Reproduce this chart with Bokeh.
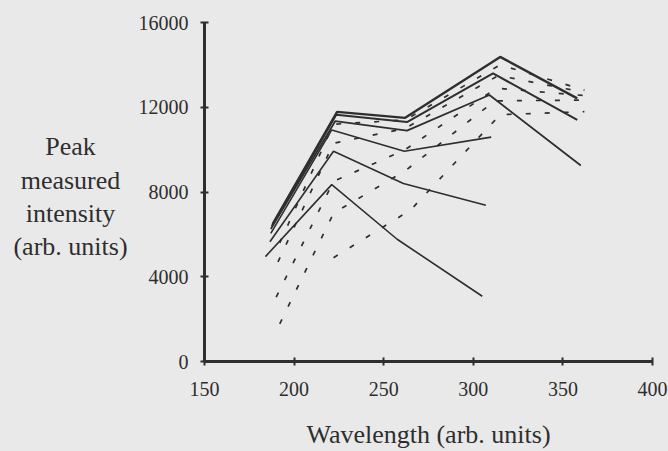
from bokeh.plotting import figure
from bokeh.layouts import row
from bokeh.models import Range1d, FixedTicker, ColumnDataSource
from bokeh.core.properties import value
from bokeh.embed import file_html
from bokeh.resources import INLINE

# ---- data ----
x_ticks = [150, 200, 250, 300, 350, 400]
y_ticks = [0, 4000, 8000, 12000, 16000]

# solid curves
s1_x = [184, 221, 257.5, 305]
s1_y = [4950, 8350, 5770, 3080]
s2_x = [186.5, 222, 261, 307]
s2_y = [5650, 9920, 8400, 7370]
s3_x = [187, 221, 261.5, 310]
s3_y = [6050, 10930, 9920, 10590]
s4_x = [187, 223, 263, 309, 360]
s4_y = [6250, 11350, 10900, 12580, 9250]
s5_x = [187.5, 223.5, 263, 311, 358]
s5_y = [6380, 11650, 11300, 13600, 11400]
s6_x = [188, 224, 262, 315, 358]
s6_y = [6480, 11780, 11500, 14375, 12420]

# dotted curves
d1_x = [222, 265, 315, 362]
d1_y = [4900, 7150, 11650, 11790]
d2_x = [192, 222, 262, 312, 362]
d2_y = [1780, 7000, 9000, 12300, 12340]
d3_x = [190, 222, 262, 313, 362]
d3_y = [3040, 8500, 10000, 12900, 12550]
d4_x = [191, 222, 262, 314, 362]
d4_y = [4700, 10300, 11000, 13500, 12700]
d5_x = [192, 222, 262, 315, 362]
d5_y = [5600, 11200, 11400, 14000, 12810]

x_label = "Wavelength (arb. units)"
y_label_lines = ["Peak", "measured", "intensity", "(arb. units)"]
y_label_rows = [10130, 8560, 7000, 5450]   # baselines, in intensity units

BG = "#e9e9e9"
INK = "#2e2e2e"
FONT = "Liberation Serif"

TOP, BOTTOM = 22, 88
LEFT_W = 130
BG_STYLE = {"background-color": BG}

# ---- left panel holding the horizontal, multi-line y label ----
lp = figure(width=LEFT_W, height=451, output_backend="svg", toolbar_location=None,
            x_range=Range1d(0, LEFT_W), y_range=Range1d(0, 16000),
            x_axis_type=None, y_axis_type=None,
            min_border_left=0, min_border_right=0,
            min_border_top=TOP, min_border_bottom=BOTTOM)
lp.styles = BG_STYLE
lp.background_fill_color = BG
lp.border_fill_color = BG
lp.outline_line_color = None
lp.grid.visible = False
src = ColumnDataSource(dict(x=[70] * len(y_label_lines), y=y_label_rows,
                            t=y_label_lines))
lp.text(x="x", y="y", text="t", source=src, text_align="center",
        text_baseline="alphabetic", text_font=value(FONT),
        text_font_size="26px", text_color=INK)

# ---- main chart ----
p = figure(width=668 - LEFT_W, height=451, output_backend="svg",
           toolbar_location=None,
           x_range=Range1d(150, 400), y_range=Range1d(0, 16000),
           min_border_left=204 - LEFT_W, min_border_right=16,
           min_border_top=TOP, min_border_bottom=BOTTOM)
p.styles = BG_STYLE
p.background_fill_color = BG
p.border_fill_color = BG
p.outline_line_color = None
p.grid.visible = False

for ax in (p.xaxis, p.yaxis):
    ax.axis_line_color = INK
    ax.axis_line_width = 3
    ax.major_tick_line_color = INK
    ax.major_tick_line_width = 2
    ax.major_tick_in = 4
    ax.major_tick_out = 4
    ax.minor_tick_line_color = None
    ax.major_label_text_font = FONT
    ax.major_label_text_font_size = "20px"
    ax.major_label_text_color = INK

p.xaxis.ticker = FixedTicker(ticks=x_ticks)
p.yaxis.ticker = FixedTicker(ticks=y_ticks)
p.xaxis.major_label_standoff = 16
p.yaxis.major_label_standoff = 12
p.xaxis.axis_label = x_label
p.xaxis.axis_label_text_font = FONT
p.xaxis.axis_label_text_font_size = "26px"
p.xaxis.axis_label_text_font_style = "normal"
p.xaxis.axis_label_text_color = INK
p.xaxis.axis_label_standoff = 21

for xs, ys, w in [(s1_x, s1_y, 1.6), (s2_x, s2_y, 1.6), (s3_x, s3_y, 1.6),
                  (s4_x, s4_y, 1.8), (s5_x, s5_y, 2.0), (s6_x, s6_y, 2.4)]:
    p.line(xs, ys, line_color=INK, line_width=w)

for xs, ys in [(d1_x, d1_y), (d2_x, d2_y), (d3_x, d3_y), (d4_x, d4_y), (d5_x, d5_y)]:
    p.line(xs, ys, line_color=INK, line_width=1.7, line_dash="5 14")

layout = row(lp, p, spacing=0)
layout.styles = BG_STYLE
html = file_html(layout, INLINE)
html = html.replace("<body>", '<body style="margin:0;background:%s;">' % BG, 1)
open("out.html", "w").write(html)
